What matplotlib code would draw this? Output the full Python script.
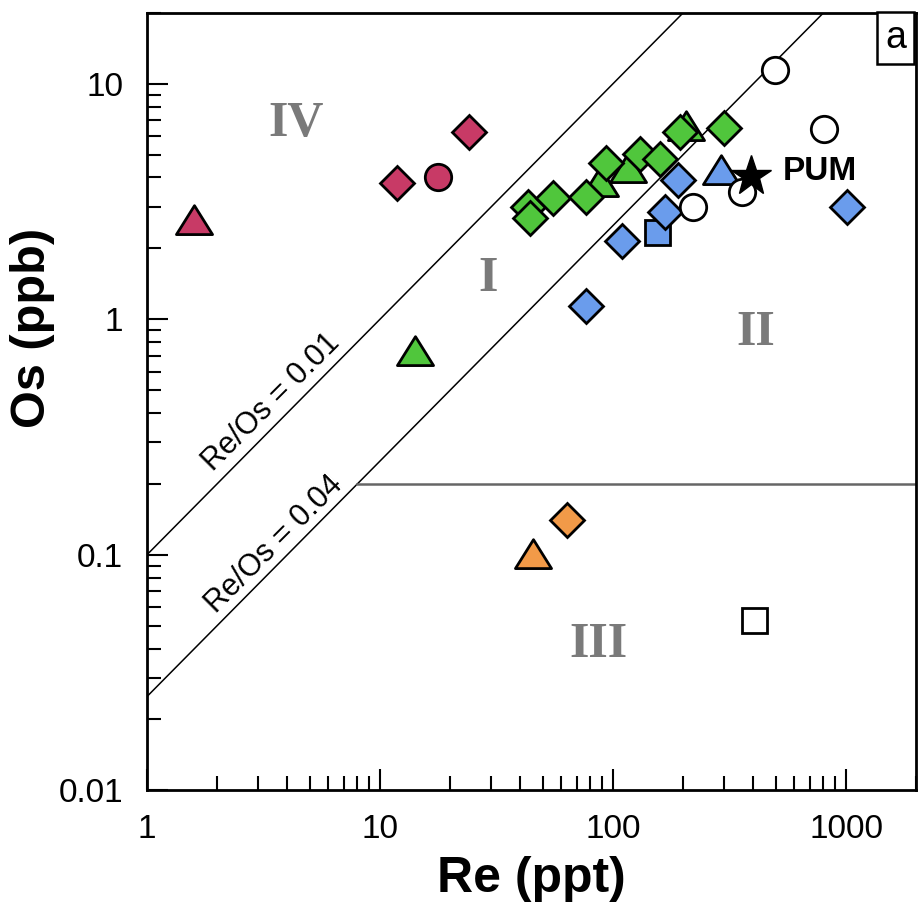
import numpy as np
import matplotlib
matplotlib.use("Agg")
import matplotlib.pyplot as plt
from matplotlib.path import Path
from matplotlib.ticker import FixedLocator, FixedFormatter, LogLocator, NullFormatter

# ---------------- data ----------------
# crimson (region IV)
crim_tri_re = [1.6]
crim_tri_os = [2.64]
crim_dia_re = [11.8, 24.2]
crim_dia_os = [3.80, 6.22]
crim_cir_re = [17.7]
crim_cir_os = [4.03]

# green
green_dia_re = [43.0, 44.0, 55.4, 76.7, 93.4, 130, 159, 193, 301]
green_dia_os = [3.00, 2.69, 3.27, 3.30, 4.63, 5.01, 4.77, 6.22, 6.50]
green_tri_re = [14.1, 88.0, 116, 205]
green_tri_os = [0.73, 3.83, 4.40, 6.60]

# orange (region III)
orange_tri_re = [45.5]
orange_tri_os = [0.101]
orange_dia_re = [63.6]
orange_dia_os = [0.140]

# blue
blue_dia_re = [190, 168, 109, 76.7, 1010]
blue_dia_os = [3.91, 2.85, 2.16, 1.14, 2.99]
blue_sq_re = [154]
blue_sq_os = [2.34]
blue_tri_re = [290]
blue_tri_os = [4.32]

# open symbols
open_cir_re = [497, 805, 220, 359]
open_cir_os = [11.4, 6.41, 2.99, 3.48]
open_sq_re = [401]
open_sq_os = [0.053]

# primitive upper mantle
pum_re = [392]
pum_os = [4.05]

# reference lines
ratio_vals = [0.01, 0.04]
ratio_labels = ["Re/Os = 0.01", "Re/Os = 0.04"]
os_limit = 0.2

x_ticks = [1, 10, 100, 1000]
x_ticklabels = ["1", "10", "100", "1000"]
y_ticks = [0.01, 0.1, 1, 10]
y_ticklabels = ["0.01", "0.1", "1", "10"]

# ---------------- style ----------------
plt.rcParams['font.family'] = ['Liberation Sans', 'DejaVu Sans']

C_CRIM = '#C83A66'
C_GREEN = '#50C63C'
C_BLUE = '#6A9CEC'
C_ORANGE = '#F29A48'

tri = Path([(-1, -0.78), (1, -0.78), (0, 0.82), (-1, -0.78)],
           [Path.MOVETO, Path.LINETO, Path.LINETO, Path.CLOSEPOLY])

fig = plt.figure(figsize=(9.18, 9.18), dpi=100)
ax = fig.add_axes([0.160, 0.139, 0.838, 0.847])
ax.set_xscale('log')
ax.set_yscale('log')
ax.set_xlim(1, 2000)
ax.set_ylim(0.01, 20)

# reference lines (Re in ppt, Os in ppb)
xx = np.array([1, 2000.0])
for r in ratio_vals:
    ax.plot(xx, xx / (1000 * r), color='black', lw=1.1, zorder=1)
x_start = os_limit * 1000 * ratio_vals[1]
ax.plot([x_start, 2000], [os_limit, os_limit], color='#666666', lw=1.8, zorder=1)

MEW = 2.0
DS = 17.5   # diamond size
CS = 19     # circle
SS = 18     # square
TS = 26     # triangle

def mk(x, y, marker, size, fc, z=3):
    ax.plot(x, y, linestyle='none', marker=marker, markersize=size,
            markerfacecolor=fc, markeredgecolor='black', markeredgewidth=MEW, zorder=z)

mk(crim_tri_re, crim_tri_os, tri, TS, C_CRIM)
mk(crim_dia_re, crim_dia_os, 'D', DS, C_CRIM)
mk(crim_cir_re, crim_cir_os, 'o', CS, C_CRIM)

mk(green_tri_re, green_tri_os, tri, TS, C_GREEN)
mk(green_dia_re, green_dia_os, 'D', DS, C_GREEN)

mk(orange_tri_re, orange_tri_os, tri, TS, C_ORANGE)
mk(orange_dia_re, orange_dia_os, 'D', DS, C_ORANGE)

mk(blue_sq_re, blue_sq_os, 's', SS, C_BLUE, z=4)
mk(blue_dia_re, blue_dia_os, 'D', DS, C_BLUE, z=4)
mk(blue_tri_re, blue_tri_os, tri, TS, C_BLUE, z=4)

mk(open_cir_re, open_cir_os, 'o', CS, 'white', z=5)
mk(open_sq_re, open_sq_os, 's', SS, 'white', z=5)
ax.plot(pum_re, pum_os, linestyle='none', marker='*', markersize=30,
        color='black', zorder=6)
ax.text(535, 4.24, "PUM", fontsize=24, fontweight='bold', ha='left', va='center', zorder=7)

# ratio labels
ax.text(3.42, 0.445, ratio_labels[0], fontsize=22, rotation=45, rotation_mode='anchor',
        ha='center', va='center')
ax.text(3.52, 0.111, ratio_labels[1], fontsize=22, rotation=45, rotation_mode='anchor',
        ha='center', va='center')

# region labels
for s, x, y in [("IV", 4.38, 6.73), ("I", 29.2, 1.49), ("II", 408, 0.871), ("III", 87, 0.0415)]:
    ax.text(x, y, s, fontsize=36, fontweight='bold', family='Liberation Serif',
            color='#7a7a7a', ha='center', va='center')

# panel label
ax.text(0.9735, 0.9675, "a", transform=ax.transAxes, fontsize=27, ha='center', va='center',
        bbox=dict(boxstyle='square,pad=0.22', facecolor='white', edgecolor='black', lw=1.8))

# axes styling
for sp in ax.spines.values():
    sp.set_linewidth(2.0)
ax.xaxis.set_major_locator(FixedLocator(x_ticks))
ax.xaxis.set_major_formatter(FixedFormatter(x_ticklabels))
ax.yaxis.set_major_locator(FixedLocator(y_ticks))
ax.yaxis.set_major_formatter(FixedFormatter(y_ticklabels))
ax.xaxis.set_minor_locator(LogLocator(base=10, subs=np.arange(2, 10)))
ax.yaxis.set_minor_locator(LogLocator(base=10, subs=np.arange(2, 10)))
ax.xaxis.set_minor_formatter(NullFormatter())
ax.yaxis.set_minor_formatter(NullFormatter())
ax.tick_params(which='both', direction='in', top=False, right=False, width=1.5)
ax.tick_params(which='major', length=15, labelsize=24, pad=17)
ax.tick_params(which='minor', length=10)

ax.set_xlabel("Re (ppt)", fontsize=36, fontweight='bold', labelpad=8)
fig.text(33 / 918, 1 - 328 / 918, "Os (ppb)", fontsize=35, fontweight='bold',
         rotation=90, ha='center', va='center')

fig.savefig("out.png", dpi=100)
